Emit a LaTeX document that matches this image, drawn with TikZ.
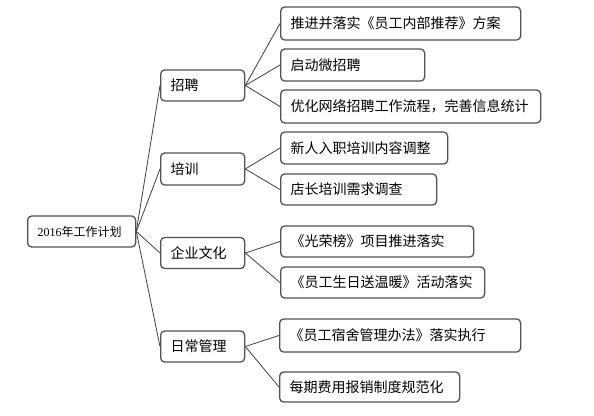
\documentclass[tikz,border=0pt]{standalone}
\usepackage{fontspec}
\newfontfamily\cjk{Noto Sans CJK SC}
\setmainfont{Liberation Serif}
\begin{document}
\begin{tikzpicture}[x=1pt,y=1pt,
  box/.style={draw=black!68, line width=1.3pt, rounded corners=4pt, fill=white,
    inner xsep=10pt, inner ysep=0pt, align=left, anchor=west, font=\cjk\fontsize{14}{16}\selectfont},
  link/.style={draw=black!75, line width=0.8pt}]
\useasboundingbox (0,0) rectangle (594,415);
% root
\node[box, text width=88pt, minimum height=31pt, font=\fontsize{12}{14}\selectfont] (root) at (27,183.5) {2016{\cjk 年工作计划}};
% level 1
\node[box, text width=64pt, minimum height=31pt] (a) at (160,329.5) {招聘};
\node[box, text width=64pt, minimum height=32pt] (b) at (160,246) {培训};
\node[box, text width=64pt, minimum height=31pt] (c) at (160,162) {企业文化};
\node[box, text width=64pt, minimum height=31pt] (d) at (160,68.5) {日常管理};
% level 2
\node[box, text width=220pt, minimum height=33pt] (a1) at (280,391.5) {推进并落实《员工内部推荐》方案};
\node[box, text width=124pt, minimum height=32pt] (a2) at (280,350) {启动微招聘};
\node[box, text width=240pt, minimum height=33pt] (a3) at (280,308.5) {优化网络招聘工作流程，完善信息统计};
\node[box, text width=147pt, minimum height=32pt] (b1) at (280,267) {新人入职培训内容调整};
\node[box, text width=136pt, minimum height=31pt] (b2) at (280,225.5) {店长培训需求调查};
\node[box, text width=173pt, minimum height=31pt] (c1) at (280,173.5) {《光荣榜》项目推进落实};
\node[box, text width=184pt, minimum height=31pt] (c2) at (280,132.5) {《员工生日送温暖》活动落实};
\node[box, text width=221pt, minimum height=33pt] (d1) at (279,79.5) {《员工宿舍管理办法》落实执行};
\node[box, text width=160pt, minimum height=30pt] (d2) at (279,28) {每期费用报销制度规范化};
% connectors
\foreach \t in {a,b,c,d} \draw[link] (root.east) -- (\t.west);
\foreach \t in {a1,a2,a3} \draw[link] (a.east) -- (\t.west);
\foreach \t in {b1,b2} \draw[link] (b.east) -- (\t.west);
\foreach \t in {c1,c2} \draw[link] (c.east) -- (\t.west);
\foreach \t in {d1,d2} \draw[link] (d.east) -- (\t.west);
\end{tikzpicture}
\end{document}
